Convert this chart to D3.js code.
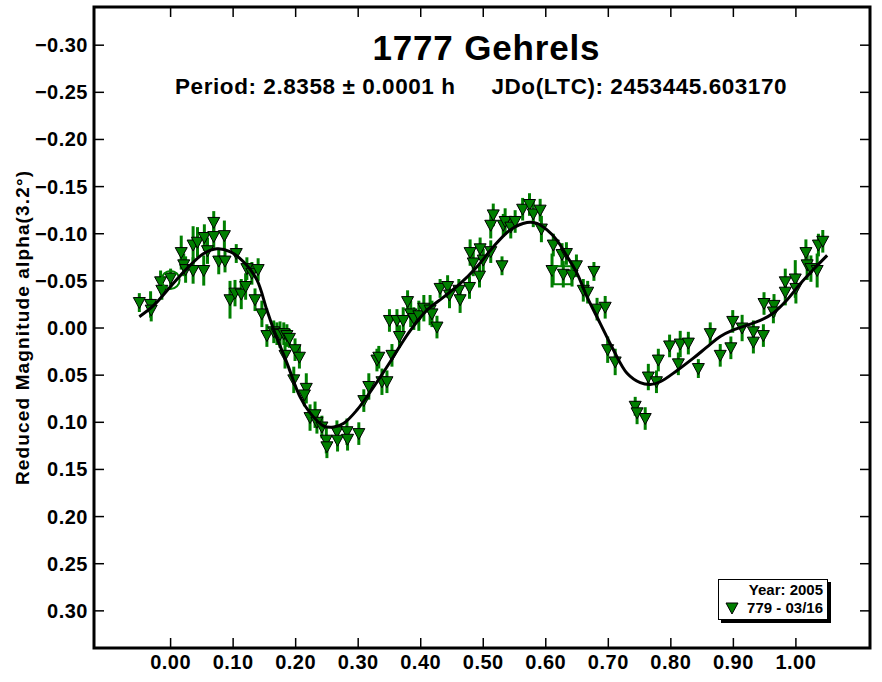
<!DOCTYPE html>
<html><head><meta charset="utf-8">
<script src="https://cdn.jsdelivr.net/npm/d3@7"></script>
<style>body{margin:0;background:#fff}</style>
</head><body><svg id="c" width="882" height="682"></svg>
<script>
const xTicks = [0.00,0.10,0.20,0.30,0.40,0.50,0.60,0.70,0.80,0.90,1.00];
const yTicks = [-0.30,-0.25,-0.20,-0.15,-0.10,-0.05,0.00,0.05,0.10,0.15,0.20,0.25,0.30];
const titleText = "1777 Gehrels";
const periodText = "Period: 2.8358 \u00b1 0.0001 h";
const jdText = "JDo(LTC): 2453445.603170";
const yLabel = "Reduced Magnitude alpha(3.2\u00b0)";
const legendTitle = "Year: 2005";
const legendSeries = "779 - 03/16";

const phase = [-0.050,-0.032,-0.031,-0.016,-0.014,0.000,0.017,0.021,0.024,0.036,0.036,0.043,0.053,0.054,0.059,0.069,0.069,0.077,0.086,0.087,
0.105,0.095,0.103,0.113,0.120,0.122,0.130,0.140,0.135,0.146,0.154,0.165,0.170,0.175,0.181,0.186,0.190,0.183,0.199,0.206,
0.197,0.217,0.214,0.223,0.231,0.234,0.242,0.249,0.250,0.266,0.267,0.282,0.283,0.301,0.309,0.317,0.330,0.333,0.338,0.346,
0.354,0.350,0.362,0.366,0.372,0.379,0.384,0.389,0.397,0.405,0.415,0.418,0.426,0.431,0.443,0.446,0.461,0.463,0.478,0.494,
0.479,0.484,0.495,0.500,0.512,0.530,0.512,0.516,0.532,0.535,0.544,0.551,0.563,0.574,0.580,0.591,0.593,0.612,0.610,0.626,
0.633,0.628,0.642,0.649,0.677,0.660,0.667,0.682,0.695,0.699,0.711,0.743,0.746,0.759,0.764,0.777,0.780,0.798,0.812,0.815,
0.828,0.844,0.863,0.879,0.896,0.899,0.914,0.932,0.932,0.948,0.949,0.965,0.964,0.983,0.983,0.999,1.000,1.016,1.018,1.024,
1.034,1.036,1.043];
const mag = [-0.027,-0.025,-0.019,-0.049,-0.040,-0.053,-0.080,-0.067,-0.062,-0.061,-0.088,-0.091,-0.061,-0.096,-0.082,-0.112,-0.097,-0.071,-0.098,-0.071,
-0.079,-0.030,-0.037,-0.036,-0.044,-0.063,-0.058,-0.062,-0.030,-0.015,0.008,0.004,0.006,0.007,0.006,0.008,0.011,0.029,0.023,0.031,
0.055,0.064,0.071,0.095,0.092,0.100,0.105,0.119,0.126,0.110,0.119,0.110,0.118,0.112,0.077,0.062,0.034,0.031,0.057,0.057,
0.029,-0.008,-0.008,0.009,-0.008,-0.028,-0.015,-0.010,-0.013,-0.021,-0.019,-0.015,-0.001,-0.042,-0.044,-0.035,-0.040,-0.030,-0.043,-0.055,
-0.080,-0.069,-0.084,-0.072,-0.081,-0.066,-0.109,-0.120,-0.109,-0.113,-0.107,-0.113,-0.126,-0.131,-0.121,-0.125,-0.105,-0.088,-0.061,-0.078,
-0.079,-0.057,-0.056,-0.066,-0.060,-0.040,-0.038,-0.020,-0.022,0.023,0.036,0.083,0.090,0.096,0.052,0.057,0.034,0.019,0.038,0.017,
0.016,0.043,0.006,0.029,0.021,-0.007,0.000,0.004,0.015,0.008,-0.026,-0.024,-0.017,-0.049,-0.038,-0.052,-0.042,-0.080,-0.067,-0.063,
-0.061,-0.088,-0.092];
const err = [0.010,0.014,0.012,0.012,0.010,0.010,0.018,0.012,0.014,0.014,0.020,0.016,0.016,0.014,0.014,0.012,0.012,0.014,0.016,0.012,
0.010,0.020,0.014,0.016,0.014,0.012,0.012,0.012,0.012,0.014,0.012,0.012,0.012,0.014,0.012,0.012,0.010,0.014,0.012,0.012,
0.014,0.016,0.012,0.014,0.014,0.012,0.012,0.014,0.012,0.012,0.012,0.014,0.012,0.012,0.012,0.014,0.012,0.012,0.014,0.012,
0.012,0.012,0.012,0.012,0.014,0.012,0.014,0.012,0.016,0.014,0.016,0.014,0.012,0.010,0.012,0.014,0.012,0.014,0.012,0.012,
0.014,0.014,0.012,0.012,0.012,0.010,0.014,0.012,0.012,0.014,0.012,0.012,0.012,0.012,0.014,0.012,0.014,0.012,0.018,0.012,
0.012,0.014,0.012,0.012,0.010,0.012,0.012,0.012,0.012,0.014,0.014,0.010,0.012,0.012,0.014,0.012,0.012,0.012,0.012,0.014,
0.012,0.010,0.012,0.012,0.012,0.012,0.014,0.012,0.012,0.012,0.012,0.012,0.012,0.014,0.014,0.020,0.016,0.014,0.016,0.014,
0.018,0.012,0.012];

const fitPhase = [-0.050,-0.027,0.000,0.026,0.053,0.074,0.095,0.117,0.138,0.154,0.165,0.186,0.207,0.223,0.245,0.261,0.277,0.298,0.319,0.351,
0.367,0.383,0.410,0.437,0.463,0.490,0.516,0.543,0.570,0.586,0.602,0.618,0.634,0.650,0.666,0.687,0.708,0.730,0.751,0.767,
0.783,0.810,0.836,0.858,0.879,0.900,0.922,0.943,0.964,0.986,1.007,1.028,1.050];
const fitMag = [-0.012,-0.024,-0.044,-0.063,-0.079,-0.084,-0.081,-0.070,-0.051,-0.019,0.002,0.037,0.073,0.090,0.104,0.105,0.101,0.087,0.068,0.036,
0.019,0.003,-0.019,-0.033,-0.047,-0.065,-0.086,-0.104,-0.112,-0.111,-0.104,-0.093,-0.076,-0.058,-0.033,-0.005,0.023,0.048,0.058,0.060,
0.057,0.045,0.032,0.020,0.009,0.002,-0.003,-0.008,-0.016,-0.030,-0.047,-0.062,-0.077];

const circleMark = [0.000, -0.051];
const squareMark = [0.627, -0.056];

const svg = d3.select("#c");
const L = 94, R = 870, T = 7, B = 648;
const x = d3.scaleLinear().domain([-0.1225, 1.1185]).range([L, R]);
const y = d3.scaleLinear().domain([-0.3405, 0.3394]).range([T, B]);
const green = "#007f00";
const font = "Arial, 'Liberation Sans', sans-serif";

svg.append("rect").attr("width",882).attr("height",682).attr("fill","#fff");

// ticks on all four sides (inward)
const tl = 10;
svg.append("g").selectAll("line").data(xTicks).join("line")
  .attr("x1",d=>x(d)).attr("x2",d=>x(d)).attr("y1",B).attr("y2",B-tl)
  .attr("stroke","#000").attr("stroke-width",1.5);
svg.append("g").selectAll("line").data(xTicks).join("line")
  .attr("x1",d=>x(d)).attr("x2",d=>x(d)).attr("y1",T).attr("y2",T+tl)
  .attr("stroke","#000").attr("stroke-width",1.5);
svg.append("g").selectAll("line").data(yTicks).join("line")
  .attr("x1",L).attr("x2",L+tl).attr("y1",d=>y(d)).attr("y2",d=>y(d))
  .attr("stroke","#000").attr("stroke-width",1.5);
svg.append("g").selectAll("line").data(yTicks).join("line")
  .attr("x1",R).attr("x2",R-tl).attr("y1",d=>y(d)).attr("y2",d=>y(d))
  .attr("stroke","#000").attr("stroke-width",1.5);

// tick labels
svg.append("g").selectAll("text").data(xTicks).join("text")
  .attr("x",d=>x(d)).attr("y",669).attr("text-anchor","middle")
  .attr("font-family",font).attr("font-weight","bold").attr("font-size",20)
  .attr("letter-spacing",0.5)
  .text(d=>d3.format(".2f")(d));
svg.append("g").selectAll("text").data(yTicks).join("text")
  .attr("x",88).attr("y",d=>y(d)+7).attr("text-anchor","end")
  .attr("font-family",font).attr("font-weight","bold").attr("font-size",20)
  .attr("letter-spacing",0.5)
  .text(d=>d3.format(".2f")(d));

// y label
svg.append("text")
  .attr("transform","translate(29,328) rotate(-90)")
  .attr("text-anchor","middle")
  .attr("font-family",font).attr("font-weight","bold").attr("font-size",19)
  .attr("textLength",314).attr("lengthAdjust","spacing")
  .text(yLabel);

// titles
svg.append("text").attr("x",372.5).attr("y",60)
  .attr("font-family",font).attr("font-weight","bold").attr("font-size",35)
  .attr("textLength",227).attr("lengthAdjust","spacing").text(titleText);
svg.append("text").attr("x",175).attr("y",94)
  .attr("font-family",font).attr("font-weight","bold").attr("font-size",22.5)
  .attr("textLength",280).attr("lengthAdjust","spacing").text(periodText);
svg.append("text").attr("x",491.5).attr("y",94)
  .attr("font-family",font).attr("font-weight","bold").attr("font-size",22.5)
  .attr("textLength",295).attr("lengthAdjust","spacing").text(jdText);

// clip
svg.append("clipPath").attr("id","clip").append("rect")
  .attr("x",L).attr("y",T).attr("width",R-L).attr("height",B-T);
const plot = svg.append("g").attr("clip-path","url(#clip)");

const idx = d3.range(phase.length);
// error bars
plot.append("g").selectAll("line").data(idx).join("line")
  .attr("x1",i=>x(phase[i])).attr("x2",i=>x(phase[i]))
  .attr("y1",i=>y(mag[i]-err[i])).attr("y2",i=>y(mag[i]+err[i]))
  .attr("stroke",green).attr("stroke-width",3);
// markers
const tri = (cx,cy)=>`M${cx-6},${cy-5} L${cx+6},${cy-5} L${cx},${cy+6} Z`;
plot.append("g").selectAll("path").data(idx).join("path")
  .attr("d",i=>tri(x(phase[i]),y(mag[i])))
  .attr("fill",green).attr("stroke","#000").attr("stroke-width",1);

// special marks
plot.append("circle").attr("cx",x(circleMark[0])).attr("cy",y(circleMark[1])).attr("r",9)
  .attr("fill","none").attr("stroke",green).attr("stroke-width",2);
plot.append("rect").attr("x",x(squareMark[0])-9).attr("y",y(squareMark[1])-9)
  .attr("width",18).attr("height",18)
  .attr("fill","none").attr("stroke",green).attr("stroke-width",2);

// fit curve
const line = d3.line().x(d=>x(d[0])).y(d=>y(d[1])).curve(d3.curveCatmullRom);
plot.append("path").datum(fitPhase.map((p,i)=>[p,fitMag[i]]))
  .attr("d",line).attr("fill","none").attr("stroke","#000").attr("stroke-width",3);

// frame
svg.append("rect").attr("x",L).attr("y",T).attr("width",R-L).attr("height",B-T)
  .attr("fill","none").attr("stroke","#000").attr("stroke-width",3);

// legend
const lg = svg.append("g");
lg.append("rect").attr("x",721).attr("y",582).attr("width",110).attr("height",41).attr("fill","#000");
lg.append("rect").attr("x",718.5).attr("y",579.5).attr("width",109).attr("height",40)
  .attr("fill","#fff").attr("stroke","#000").attr("stroke-width",1);
lg.append("text").attr("x",823).attr("y",595).attr("text-anchor","end")
  .attr("font-family",font).attr("font-weight","bold").attr("font-size",15).text(legendTitle);
lg.append("text").attr("x",823).attr("y",613).attr("text-anchor","end")
  .attr("font-family",font).attr("font-weight","bold").attr("font-size",15).text(legendSeries);
lg.append("path").attr("d",tri(732,608)).attr("fill",green).attr("stroke","#000").attr("stroke-width",1);
</script>
</body></html>
